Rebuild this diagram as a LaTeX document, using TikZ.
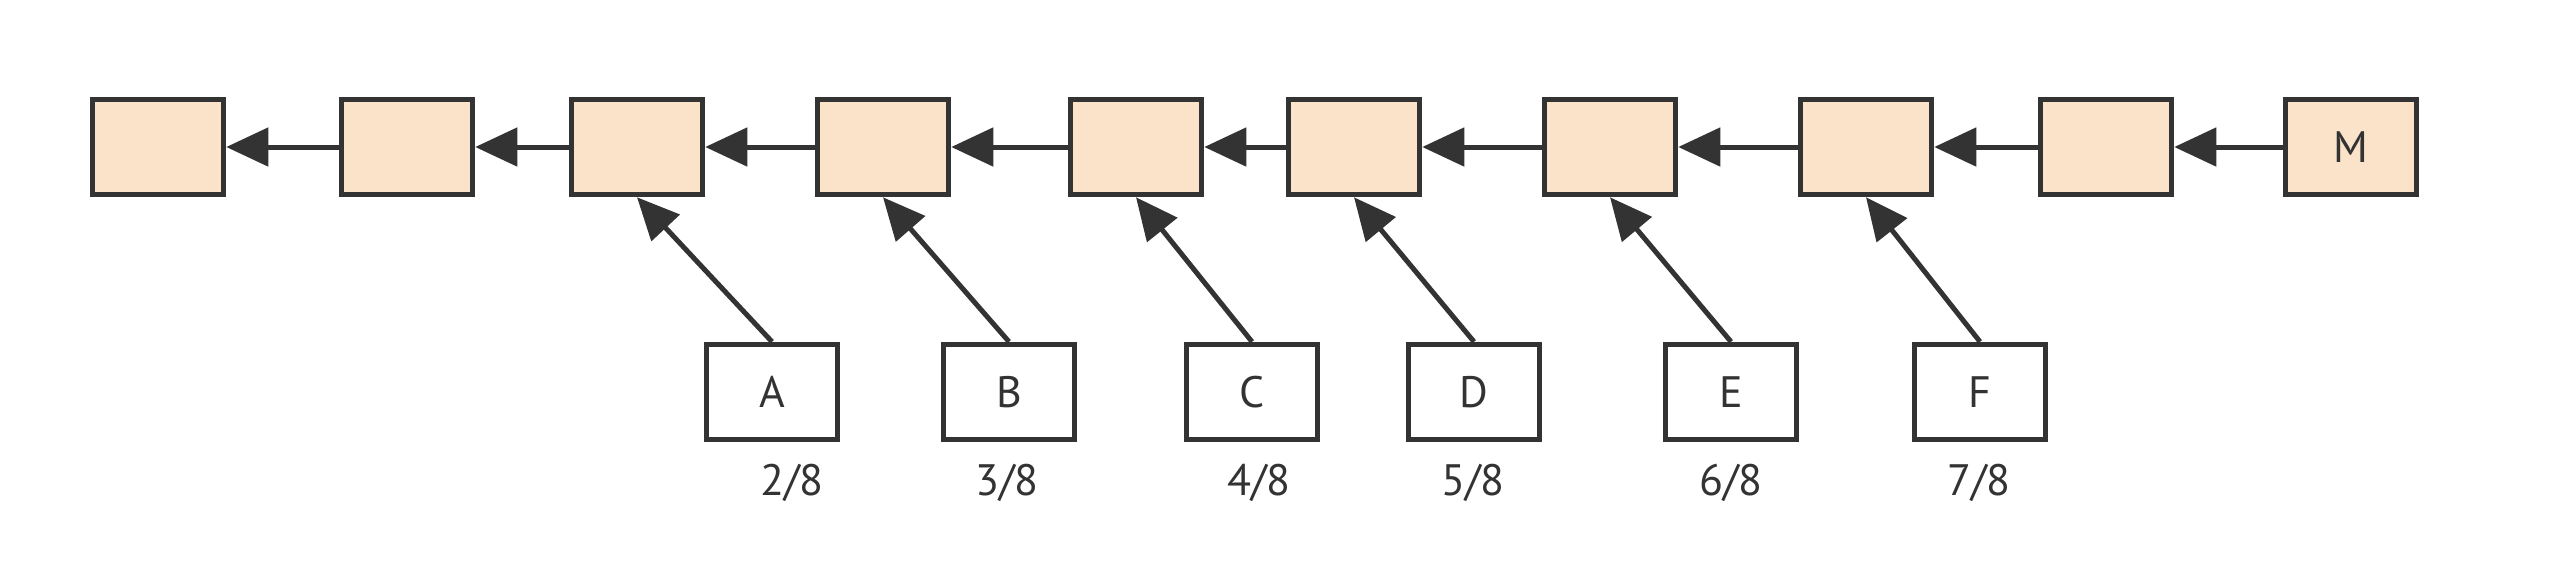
\documentclass[tikz,border=0pt]{standalone}
\usepackage{fontspec}
\setmainfont{PT Sans}
\usetikzlibrary{arrows.meta}
\definecolor{peach}{HTML}{FBE3C9}
\definecolor{ink}{HTML}{333333}
\begin{document}
\begin{tikzpicture}[x=1pt,y=-1pt,
  topbox/.style={draw=ink, fill=peach, line width=5.5pt, minimum width=131pt, minimum height=95pt, inner sep=0pt, font=\fontsize{44}{52}\selectfont, text=ink},
  botbox/.style={draw=ink, fill=white, line width=5.5pt, minimum width=131pt, minimum height=95pt, inner sep=0pt, font=\fontsize{44}{52}\selectfont, text=ink},
  lbl/.style={font=\fontsize{44}{52}\selectfont, text=ink, inner sep=0pt},
  conn/.style={draw=ink, line width=5pt, -{Triangle[length=42pt,width=38pt]}}]
\useasboundingbox (0,0) rectangle (2560,566);
\node[topbox] (t1) at (158,147) {};
\node[topbox] (t2) at (407,147) {};
\node[topbox] (t3) at (637,147) {};
\node[topbox] (t4) at (883,147) {};
\node[topbox] (t5) at (1136,147) {};
\node[topbox] (t6) at (1354,147) {};
\node[topbox] (t7) at (1610,147) {};
\node[topbox] (t8) at (1866,147) {};
\node[topbox] (t9) at (2106,147) {};
\node[topbox] (t10) at (2351,147) {M};
\foreach \a/\b in {t2/t1,t3/t2,t4/t3,t5/t4,t6/t5,t7/t6,t8/t7,t9/t8,t10/t9}
  \draw[conn] (\a.west) -- (\b.east);
\node[botbox] (A) at (772,392) {A};
\node[botbox] (B) at (1009,392) {B};
\node[botbox] (C) at (1252,392) {C};
\node[botbox] (D) at (1474,392) {D};
\node[botbox] (E) at (1731,392) {E};
\node[botbox] (F) at (1980,392) {F};
\draw[conn] (A.north) -- (t3.south);
\draw[conn] (B.north) -- (t4.south);
\draw[conn] (C.north) -- (t5.south);
\draw[conn] (D.north) -- (t6.south);
\draw[conn] (E.north) -- (t7.south);
\draw[conn] (F.north) -- (t8.south);
\node[lbl] (la) at (792,483) {2/8};
\node[lbl] (lb) at (1007,483) {3/8};
\node[lbl] (lc) at (1259,483) {4/8};
\node[lbl] (ld) at (1473,483) {5/8};
\node[lbl] (le) at (1731,483) {6/8};
\node[lbl] (lf) at (1979,483) {7/8};
\end{tikzpicture}
\end{document}
